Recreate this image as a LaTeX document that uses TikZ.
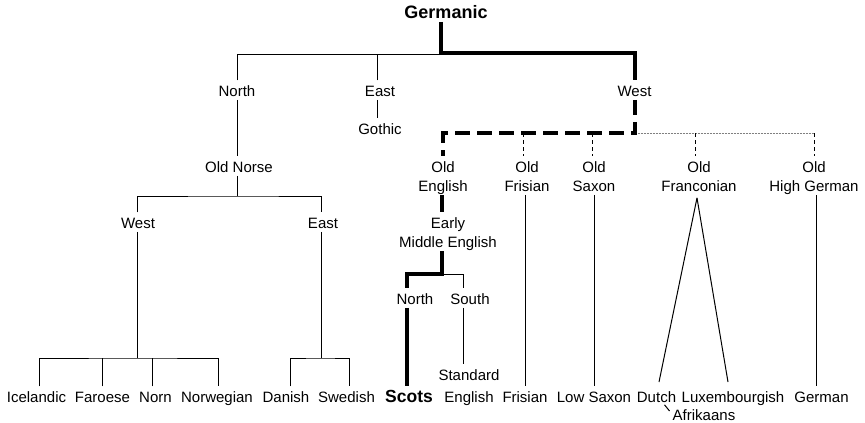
\documentclass[tikz,border=0pt]{standalone}
\usepackage{fontspec}
\setmainfont{Liberation Sans}
\newcommand\mytop{\rule{0pt}{16pt}}
\newcommand\mybot{\rule[-3pt]{0pt}{3pt}}
\begin{document}
\begin{tikzpicture}[x=1pt,y=-1pt,
  lab/.style={anchor=north,inner sep=0pt,text height=16pt,text depth=3pt,font=\fontsize{15}{19.5}\selectfont},
  lab2/.style={anchor=north,inner sep=0pt,align=center,font=\fontsize{15}{19.5}\selectfont},
  boldlab/.style={lab,font=\fontsize{17.5}{21}\selectfont\bfseries},
  ln/.style={line width=1pt},
  thk/.style={line width=4pt},
  thkdash/.style={line width=4pt,dash pattern=on 15pt off 7pt},
  thndash/.style={line width=1pt,dash pattern=on 4pt off 3pt},
  gdot/.style={line width=0.8pt,gray,dash pattern=on 2pt off 1pt}]
\useasboundingbox (0,0) rectangle (865,423);
% nodes
\node[boldlab,font=\fontsize{18}{21}\selectfont\bfseries] (germ) at (446,2.4) {Germanic};
\node[lab] (north) at (237,80.4) {North};
\node[lab] (east) at (380,80.4) {East};
\node[lab] (gwest) at (634.5,80.4) {West};
\node[lab] (goth) at (380,118.4) {Gothic};
\node[lab] (on) at (239,156.4) {Old Norse};
\node[lab] (onw) at (138,212.4) {West};
\node[lab] (one) at (323,212.4) {East};
\node[lab] (ice) at (36.5,386.4) {Icelandic};
\node[lab] (far) at (102.5,386.4) {Faroese};
\node[lab] (norn) at (155.5,386.4) {Norn};
\node[lab] (nwg) at (217,386.4) {Norwegian};
\node[lab] (dan) at (286,386.4) {Danish};
\node[lab] (swe) at (346.5,386.4) {Swedish};
\node[boldlab] (scots) at (409,386.4) {Scots};
\node[lab] (fris) at (525,386.4) {Frisian};
\node[lab] (lsx) at (594,386.4) {Low Saxon};
\node[lab] (dut) at (656.5,386.4) {Dutch};
\node[lab] (lux) at (733,386.4) {Luxembourgish};
\node[lab] (ger) at (821.5,386.4) {German};
\node[lab,text depth=0pt] (afr) at (704,404.5) {Afrikaans};
\node[lab2] (oe) at (443,156) {\mytop Old\\English\mybot};
\node[lab2] (ofs) at (527,156) {\mytop Old\\Frisian\mybot};
\node[lab2] (osx) at (594,156) {\mytop Old\\Saxon\mybot};
\node[lab2] (ofr) at (699,156) {\mytop Old\\Franconian\mybot};
\node[lab2] (ohg) at (814,156) {\mytop Old\\High German\mybot};
\node[lab2] (eme) at (448,212) {\mytop Early\\Middle English\mybot};
\node[lab] (men) at (415,288.4) {North};
\node[lab] (mes) at (470,288.4) {South};
\node[lab2] (std) at (469,364.4) {\mytop Standard\\[2.5pt]English\mybot};
% connectors: top level
\coordinate (gj) at (441,53);
\coordinate (gjl) at (441,54.5);
\draw[ln] (north.north) |- (gjl);
\draw[ln] ([xshift=-3pt]east.north) -- ([xshift=-3pt]east.north |- gjl);
\draw[thk] ([xshift=-5pt]germ.south) -- (gj) -| (gwest.north);
% north / east
\draw[ln] (north.south) -- (north.south |- on.north);
\draw[ln] ([xshift=-3pt]east.south) -- ([xshift=-3pt]goth.north);
\coordinate (onj) at (237,196);
\draw[ln] ([xshift=-2pt]on.south) -- (onj);
\draw[ln] ([xshift=-1pt]onw.north) |- (onj) -| ([xshift=-2pt]one.north);
\coordinate (wj) at (137,358);
\draw[ln] ([xshift=-1pt]onw.south) -- (wj);
\draw[ln] ([xshift=2.5pt]ice.north) |- (wj) -| ([xshift=1pt]nwg.north);
\draw[ln] ([xshift=-0.5pt]far.north) -- ([xshift=-0.5pt]far.north |- wj);
\draw[ln] ([xshift=-3.5pt]norn.north) -- ([xshift=-3.5pt]norn.north |- wj);
\coordinate (ej) at (321,358);
\draw[ln] ([xshift=-2pt]one.south) -- (ej);
\draw[ln] ([xshift=4pt]dan.north) |- (ej) -| ([xshift=2.5pt]swe.north);
% west
\coordinate (wdj) at (634.5,133);
\draw[gdot] (wdj) -- (ohg.north |- wdj);
\draw[thkdash] (gwest.south) -- (wdj) -| (oe.north);
\draw[thndash] ([xshift=-4pt]ofs.north |- wdj) -- ([xshift=-4pt]ofs.north);
\draw[thndash] ([xshift=-2pt]osx.north |- wdj) -- ([xshift=-2pt]osx.north);
\draw[thndash] ([xshift=-4pt]ofr.north |- wdj) -- ([xshift=-4pt]ofr.north);
\draw[thndash] (ohg.north |- wdj) -- (ohg.north);
% english
\draw[thk] ([xshift=-1pt]oe.south) -- ([xshift=-1pt]oe.south |- eme.north);
\coordinate (mj) at (442,274);
\draw[ln] (mj) -| ([xshift=-7pt]mes.north);
\draw[thk] ([xshift=-1pt]oe.south |- eme.south) -- (mj) -| ([xshift=-8pt]men.north);
\draw[thk] ([xshift=-8pt]men.south) -- ([xshift=-8pt]men.south |- scots.north);
\draw[ln] ([xshift=-7pt]mes.south) -- ([xshift=-7pt]mes.south |- std.north);
% others
\draw[ln] ([xshift=-2pt]ofs.south) -- (fris.north);
\draw[ln] (osx.south) -- (lsx.north);
\draw[ln] ([xshift=-2pt,yshift=-3pt]ofr.south) -- ([xshift=2.5pt,yshift=4.4pt]dut.north);
\draw[ln] ([xshift=-2pt,yshift=-3pt]ofr.south) -- ([xshift=-5pt,yshift=4.4pt]lux.north);
\draw[ln] ([xshift=2pt]ohg.south) -- ([xshift=2pt]ohg.south |- ger.north);
\draw[ln] ([xshift=8pt,yshift=1pt]dut.south) -- ([xshift=-3pt,yshift=-6.5pt]afr.north west);
\end{tikzpicture}
\end{document}
